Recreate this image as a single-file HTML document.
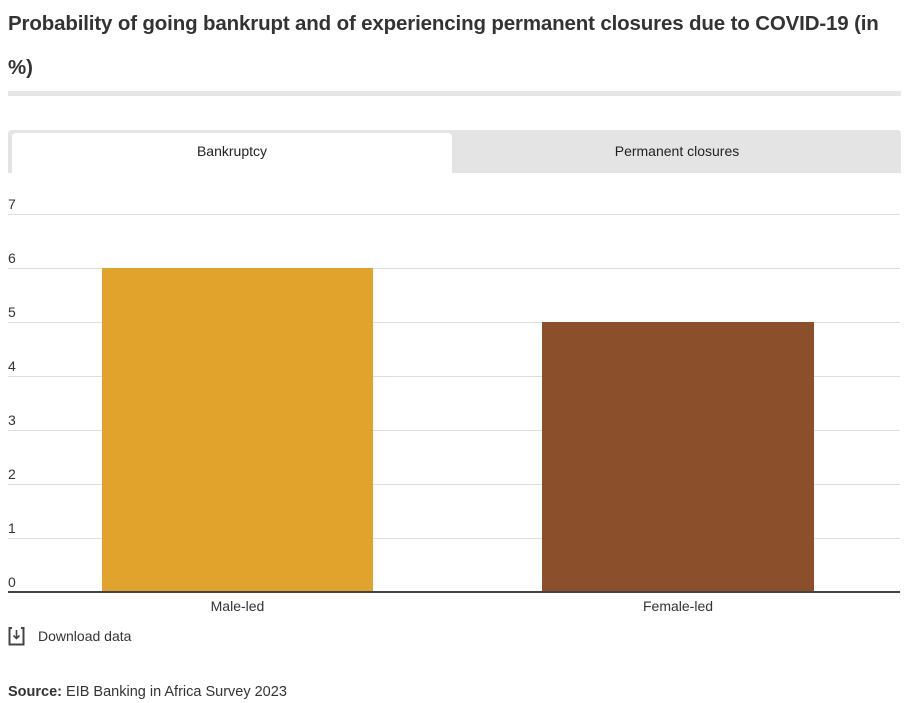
<!DOCTYPE html>
<html><head><style>
body{margin:0;width:907px;height:703px;background:#fff;font-family:"Liberation Sans",sans-serif;color:#333;position:relative;overflow:hidden}
.a{position:absolute}
.t{left:8px;top:2px;width:900px;font-size:20.5px;font-weight:bold;line-height:44px;color:#333;letter-spacing:-0.15px;white-space:nowrap}
.g{left:8px;width:892px;height:1px;background:#ddd}
.yl{left:8px;font-size:14px;color:#333}
</style></head><body>
<div class="a t">Probability of going bankrupt and of experiencing permanent closures due to COVID-19 (in<br>%)</div>
<div class="a" style="left:8px;top:91px;width:893px;height:5px;background:#e6e6e6"></div>
<div class="a" style="left:8px;top:130px;width:893px;height:43px;background:#e4e4e4;border-radius:4px 4px 0 0"></div>
<div class="a" style="left:12px;top:133px;width:440px;height:40px;background:#fff;border-radius:4px 4px 0 0"></div>
<div class="a" style="left:12px;top:143px;width:440px;text-align:center;font-size:14px;color:#222">Bankruptcy</div>
<div class="a" style="left:454px;top:143px;width:446px;text-align:center;font-size:14px;color:#222">Permanent closures</div>
<div class="a g" style="top:214px"></div><div class="a yl" style="top:196px">7</div>
<div class="a g" style="top:268px"></div><div class="a yl" style="top:250px">6</div>
<div class="a g" style="top:322px"></div><div class="a yl" style="top:304px">5</div>
<div class="a g" style="top:376px"></div><div class="a yl" style="top:358px">4</div>
<div class="a g" style="top:430px"></div><div class="a yl" style="top:412px">3</div>
<div class="a g" style="top:484px"></div><div class="a yl" style="top:466px">2</div>
<div class="a g" style="top:538px"></div><div class="a yl" style="top:520px">1</div>
<div class="a yl" style="top:574px">0</div>
<div class="a" style="left:102px;top:268px;width:271px;height:324px;background:#e2a32c"></div>
<div class="a" style="left:542px;top:322px;width:272px;height:270px;background:#8b4f2c"></div>
<div class="a" style="left:8px;top:591px;width:892px;height:2px;background:#444"></div>
<div class="a" style="left:102px;top:598px;width:271px;text-align:center;font-size:14px">Male-led</div>
<div class="a" style="left:542px;top:598px;width:272px;text-align:center;font-size:14px">Female-led</div>
<svg class="a" style="left:8px;top:627px" width="18" height="19" viewBox="0 0 18 19"><path d="M4 1H1.5V17.5H15.5V1H13" fill="none" stroke="#444" stroke-width="2"/><path d="M8.5 3V11M5.5 8.5L8.5 11.5L11.5 8.5" fill="none" stroke="#444" stroke-width="1.6"/></svg>
<div class="a" style="left:38px;top:628px;font-size:14px;color:#333">Download data</div>
<div class="a" style="left:8px;top:684px;font-size:14.5px;color:#333"><b>Source:</b> EIB Banking in Africa Survey 2023</div>
</body></html>
